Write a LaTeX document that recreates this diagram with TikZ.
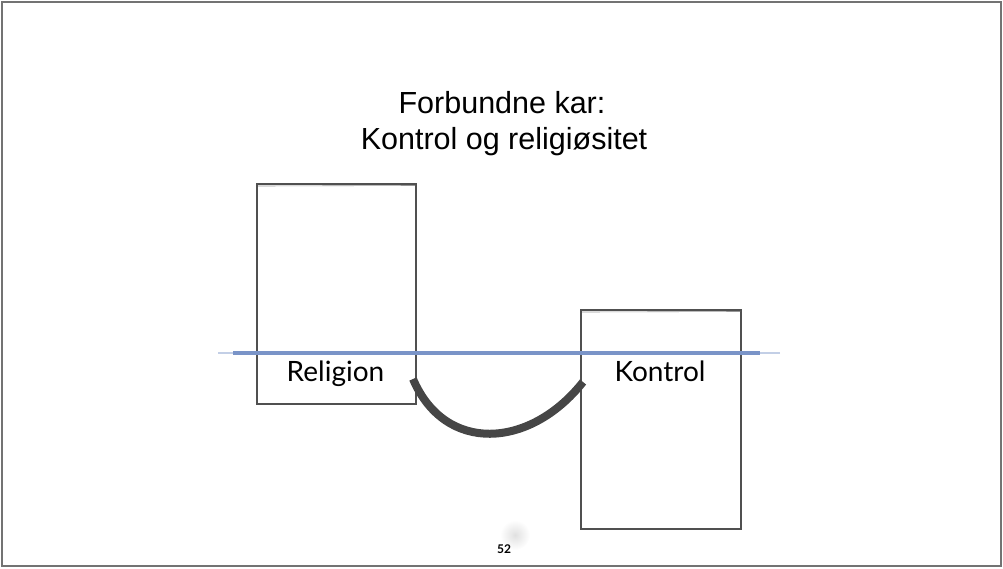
\documentclass[tikz,border=0pt]{standalone}
\usepackage{fontspec}
\usetikzlibrary{calc}
\setmainfont{Liberation Sans}
\newfontfamily\labelfont{Lato}
\definecolor{sketch}{RGB}{80,80,80}
\definecolor{waterblue}{RGB}{122,148,200}
\definecolor{curvegray}{RGB}{70,70,70}
\begin{document}
\begin{tikzpicture}[x=1pt,y=-1pt,
  vessel/.style={draw=sketch, line width=1.6pt, inner sep=0pt, fill=none},
  vessellabel/.style={font=\labelfont\fontsize{28}{30}\selectfont, anchor=base, inner sep=0pt},
  titletext/.style={font=\fontsize{30.5}{33}\selectfont, anchor=base, inner sep=0pt},
  connector/.style={draw=curvegray, line width=8pt}
]
\useasboundingbox (0,0) rectangle (1003,568);
% outer frame
\draw[gray!90!black, line width=1.6pt] (2,2) rectangle (1001,566);
% title
\node[titletext] (t1) at (502,113) {Forbundne kar:};
\node[titletext] (t2) at (504,149) {Kontrol og religiøsitet};
% vessels
\node[vessel, minimum width=159pt, minimum height=220pt] (relbox) at (336.5,294) {};
\node[vessel, minimum width=160pt, minimum height=219pt] (konbox) at (661,419.5) {};
% sketchy second strokes
\draw[sketch!60, line width=0.6pt] (258,186) -- (415,185.5);
\draw[sketch!60, line width=0.6pt] (582,312) -- (740,311.5);
% water level
\coordinate (wl) at (218,353);
\coordinate (wr) at (780,353);
\draw[waterblue!45, line width=2.5pt] (wl) -- ++(20,0);
\draw[waterblue!45, line width=2.5pt] (wr) -- ++(-20,0);
\draw[waterblue, line width=3.5pt] ($(wl)+(15,0)$) -- ($(wr)+(-20,0)$);
% labels
\node[vessellabel] (rel) at (335.5,381) {Religion};
\node[vessellabel] (kon) at (660,381) {Kontrol};
% connecting tube
\coordinate (c1) at (413,379);
\coordinate (c2) at (583,382);
\draw[connector] (c1) .. controls (445,454) and (530,449) .. (c2);
% smudge and page number
\shade[inner color=black!12, outer color=white] (515,535) circle (15);
\node[font=\labelfont\bfseries\fontsize{12}{13}\selectfont, anchor=base, inner sep=0pt] (pg) at (504,553) {52};
\end{tikzpicture}
\end{document}
